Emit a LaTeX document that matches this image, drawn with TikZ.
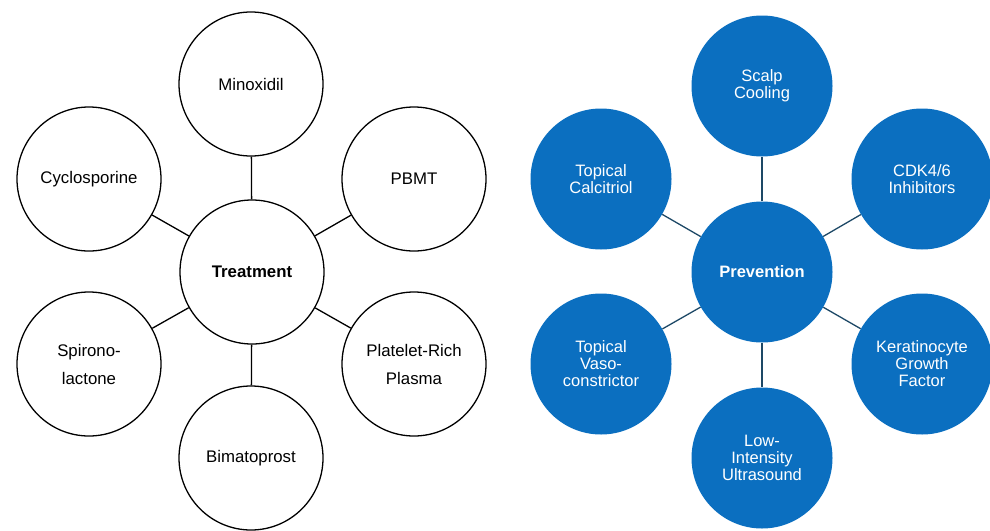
\documentclass[tikz,border=0pt]{standalone}
\usepackage{fontspec}
\setmainfont{Liberation Sans}
\definecolor{prevblue}{HTML}{0B6FC0}
\definecolor{prevline}{HTML}{1D4866}
\tikzset{
  treatnode/.style={circle,draw=black,line width=1.3pt,fill=white,minimum size=144pt,
    inner sep=0pt,align=center,font=\fontsize{16.8}{28}\selectfont},
  prevnode/.style={circle,fill=prevblue,minimum size=141pt,inner sep=0pt,align=center,
    text=white,font=\fontsize{16.5}{17}\selectfont},
}

\begin{document}
\begin{tikzpicture}[x=1pt,y=-1pt]
  \useasboundingbox (0,0) rectangle (990,530);

  % Treatment
  \node[treatnode] at (252,272) (treat) {\bfseries Treatment};
  \node[treatnode] at (251,84) (minox) {Minoxidil};
  \node[treatnode] at (89,179) (cyclo) {Cyclosporine};
  \node[treatnode] at (414,179) (pbmt) {PBMT};
  \node[treatnode] at (89,364) (spiro) {Spirono-\\lactone};
  \node[treatnode] at (414,364) (prp) {Platelet-Rich\\Plasma};
  \node[treatnode] at (251,458) (bimat) {Bimatoprost};
  \foreach \n in {minox,cyclo,pbmt,spiro,prp,bimat}
    \draw[line width=1.3pt] (treat) -- (\n);

  % Prevention
  \node[prevnode] at (762,272) (prev) {\bfseries Prevention};
  \node[prevnode] at (762,86) (scalp) {Scalp\\Cooling};
  \node[prevnode] at (601,179) (calc) {Topical\\Calcitriol};
  \node[prevnode] at (922,179) (cdk) {CDK4/6\\Inhibitors};
  \node[prevnode] at (601,364) (vaso) {Topical\\Vaso-\\constrictor};
  \node[prevnode] at (922,364) (kgf) {Keratinocyte\\Growth\\Factor};
  \node[prevnode] at (762,458) (lius) {Low-\\Intensity\\Ultrasound};
  \foreach \n in {scalp,calc,cdk,vaso,kgf,lius}
    \draw[prevline,line width=1.3pt] (prev) -- (\n);
\end{tikzpicture}
\end{document}
